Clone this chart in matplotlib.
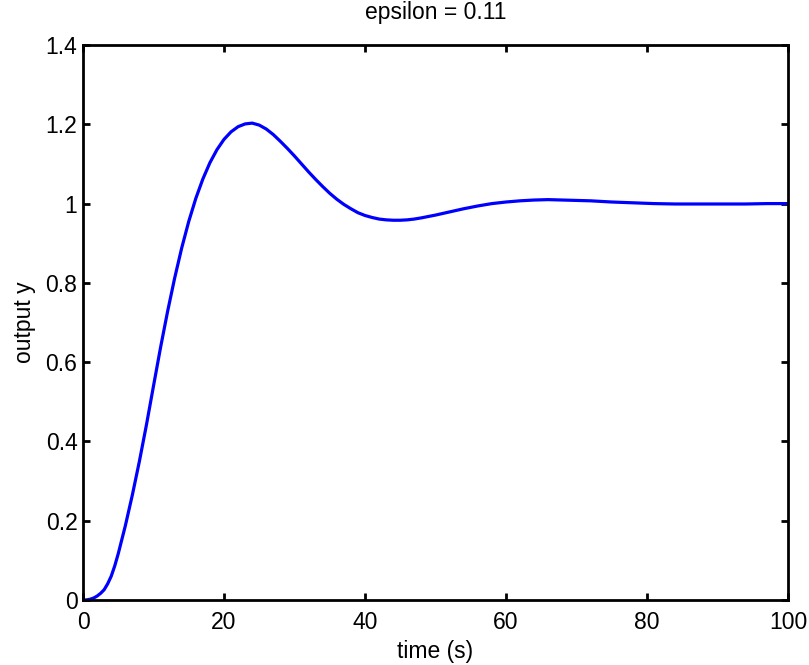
import numpy as np
import matplotlib
matplotlib.use("Agg")
import matplotlib.pyplot as plt

TIME = [0.0, 0.5, 1.0, 1.5, 2.0, 2.5, 3.0, 3.5, 4.0, 4.5, 5.0, 6.0, 7.0,
        8.0, 9.0, 10.0, 11.0, 12.0, 13.0, 14.0, 15.0, 16.0, 17.0, 18.0,
        19.0, 20.0, 21.0, 22.0, 23.0, 24.0, 25.0, 26.0, 27.0, 28.0, 29.0,
        30.0, 31.0, 32.0, 33.0, 34.0, 35.0, 36.0, 37.0, 38.0, 39.0, 40.0,
        41.0, 42.0, 43.0, 44.0, 45.0, 46.0, 47.0, 48.0, 50.0, 52.0, 54.0,
        56.0, 58.0, 60.0, 62.0, 64.0, 66.0, 68.0, 70.0, 72.0, 75.0, 78.0,
        81.0, 84.0, 87.0, 90.0, 94.0, 97.0, 100.0]
OUTPUT = [0.0, 0.0003, 0.002, 0.005, 0.010, 0.017, 0.026, 0.041, 0.060,
          0.086, 0.117, 0.187, 0.265, 0.350, 0.442, 0.540, 0.637, 0.728,
          0.812, 0.888, 0.955, 1.013, 1.062, 1.103, 1.136, 1.162, 1.181,
          1.194, 1.201, 1.203, 1.198, 1.188, 1.174, 1.157, 1.139, 1.120,
          1.100, 1.080, 1.061, 1.043, 1.026, 1.011, 0.998, 0.987, 0.977,
          0.970, 0.965, 0.961, 0.959, 0.958, 0.958, 0.959, 0.961, 0.964,
          0.971, 0.979, 0.987, 0.994, 1.000, 1.004, 1.007, 1.009, 1.010,
          1.009, 1.008, 1.007, 1.004, 1.002, 1.000, 0.999, 0.999, 0.999,
          0.999, 1.000, 1.000]

X_TICKS = [0, 20, 40, 60, 80, 100]
Y_TICKS = [0, 0.2, 0.4, 0.6, 0.8, 1, 1.2, 1.4]
Y_TICK_LABELS = ["0", "0.2", "0.4", "0.6", "0.8", "1", "1.2", "1.4"]

# ── Plot ────────────────────────────────────────────────────────────────────

plt.rcParams["font.family"] = ["Liberation Sans", "DejaVu Sans"]
FS = 16.5

fig = plt.figure(figsize=(8.09, 6.65), dpi=100)
ax = fig.add_axes([0.1026, 0.0977, 0.8714, 0.8346])

ax.plot(TIME, OUTPUT, color="#0000ff", linewidth=2.3,
        solid_joinstyle="round", solid_capstyle="round")

ax.set_xlim(0, 100)
ax.set_ylim(0, 1.4)
ax.set_xticks(X_TICKS)
ax.set_yticks(Y_TICKS)
ax.set_yticklabels(Y_TICK_LABELS)

for side in ax.spines.values():
    side.set_linewidth(2.0)
ax.tick_params(direction="in", length=5, width=2.0, top=True, right=True,
               labelsize=FS)
ax.tick_params(axis="x", pad=8)
ax.tick_params(axis="y", pad=4)

ax.set_title("epsilon = 0.11", fontsize=FS, pad=19)
ax.set_xlabel("time (s)", fontsize=FS, labelpad=4)
ax.set_ylabel("output y", fontsize=FS, labelpad=7)

fig.savefig("out.png", dpi=100)
